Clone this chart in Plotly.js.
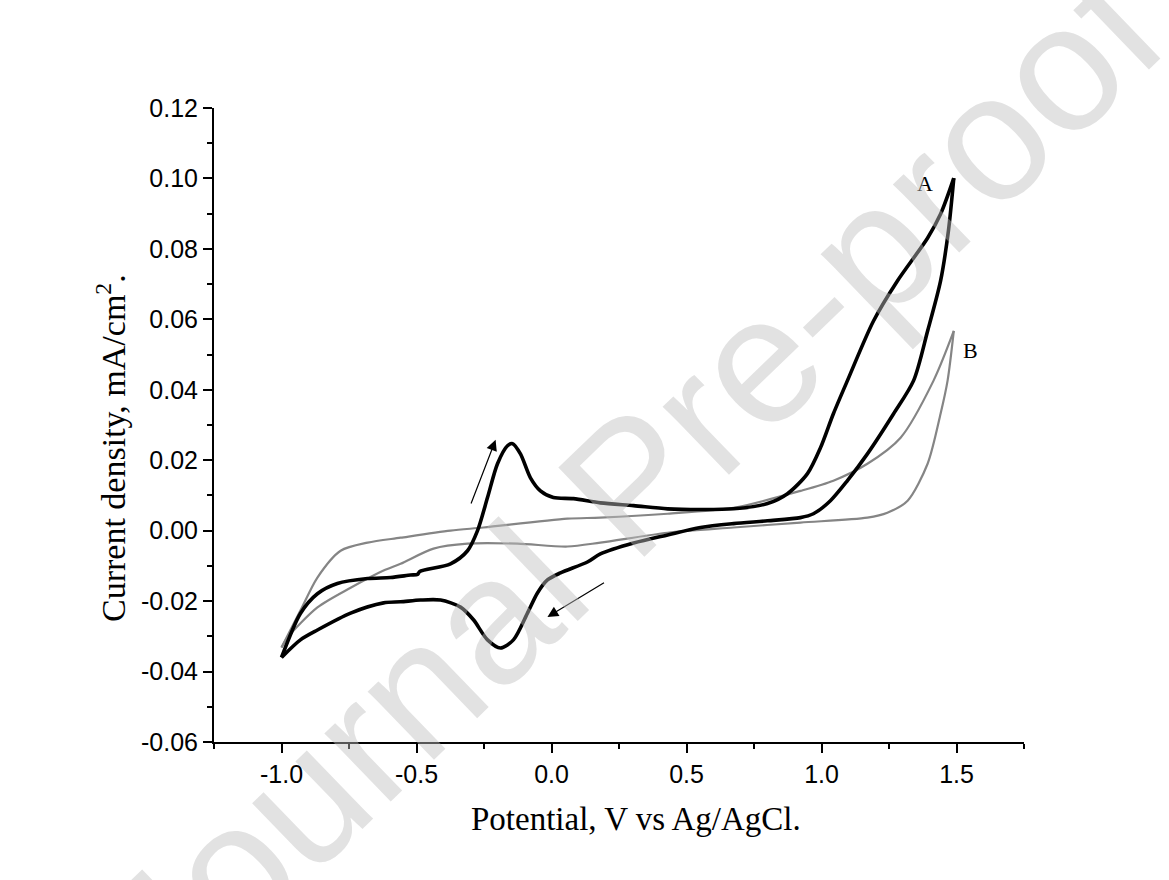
<!DOCTYPE html>
<html>
<head>
<meta charset="utf-8">
<script src="https://cdn.plot.ly/plotly-3.0.1.min.js"></script>
<style>html,body{margin:0;padding:0;background:#fff;}#chart{width:1169px;height:880px;}</style>
</head>
<body>
<div id="chart"></div>
<script>
// Curve A (black) – anodic (forward) sweep
const aAnodicX = [-1.0, -0.930, -0.867, -0.793, -0.681, -0.596, -0.522, -0.496, -0.488, -0.374, -0.311, -0.274, -0.237, -0.200, -0.163, -0.144, -0.115, -0.078, -0.041, 0.007, 0.081, 0.181, 0.304, 0.430, 0.552, 0.674, 0.800, 0.874, 0.948, 0.996, 1.044, 1.096, 1.193, 1.281, 1.393, 1.441, 1.49];
const aAnodicY = [-0.0360, -0.0235, -0.0179, -0.0150, -0.0136, -0.0133, -0.0126, -0.0124, -0.0116, -0.0094, -0.0057, 0.0000, 0.0094, 0.0190, 0.0241, 0.0247, 0.0218, 0.0150, 0.0113, 0.0094, 0.0091, 0.0079, 0.0071, 0.0062, 0.0060, 0.0062, 0.0077, 0.0105, 0.0162, 0.0235, 0.0332, 0.0426, 0.0596, 0.0709, 0.0831, 0.0899, 0.1001];
// Curve A (black) – cathodic (reverse) sweep
const aCathodicX = [1.49, 1.470, 1.441, 1.393, 1.341, 1.267, 1.170, 1.096, 1.033, 0.970, 0.922, 0.800, 0.674, 0.552, 0.430, 0.304, 0.181, 0.133, 0.033, -0.015, -0.052, -0.089, -0.141, -0.189, -0.237, -0.289, -0.337, -0.411, -0.485, -0.559, -0.622, -0.744, -0.867, -0.930, -1.0];
const aCathodicY = [0.1001, 0.0851, 0.0709, 0.0567, 0.0426, 0.0332, 0.0218, 0.0142, 0.0085, 0.0048, 0.0037, 0.0028, 0.0020, 0.0009, -0.0012, -0.0035, -0.0066, -0.0089, -0.0120, -0.0140, -0.0177, -0.0234, -0.0310, -0.0333, -0.0310, -0.0253, -0.0217, -0.0197, -0.0197, -0.0202, -0.0205, -0.0234, -0.0282, -0.0310, -0.0360];
// Curve B (grey) – anodic sweep
const bAnodicX = [-1.0, -0.930, -0.867, -0.781, -0.681, -0.559, -0.374, -0.252, 0.059, 0.181, 0.430, 0.674, 0.922, 1.044, 1.170, 1.293, 1.415, 1.49];
const bAnodicY = [-0.0332, -0.0227, -0.0133, -0.0057, -0.0034, -0.0020, 0.0000, 0.0009, 0.0034, 0.0037, 0.0048, 0.0065, 0.0113, 0.0142, 0.0190, 0.0264, 0.0426, 0.0567];
// Curve B (grey) – cathodic sweep
const bCathodicX = [1.49, 1.467, 1.441, 1.393, 1.319, 1.244, 1.170, 0.922, 0.674, 0.430, 0.181, 0.059, -0.126, -0.311, -0.437, -0.559, -0.622, -0.744, -0.867, -0.978, -1.0];
const bCathodicY = [0.0567, 0.0426, 0.0332, 0.0190, 0.0085, 0.0051, 0.0037, 0.0023, 0.0009, -0.0006, -0.0034, -0.0045, -0.0037, -0.0037, -0.0051, -0.0094, -0.0113, -0.0162, -0.0218, -0.0304, -0.0332];

// Curve labels and scan-direction arrows
const curveLabels = ["A", "B"];
const labelX = [1.385, 1.552];
const labelY = [0.0987, 0.0511];
const arrowTailX = [-0.300, 0.200];
const arrowTailY = [0.0073, -0.0145];
const arrowHeadX = [-0.207, -0.015];
const arrowHeadY = [0.0258, -0.0245];

const xTickVals = [-1.0, -0.5, 0.0, 0.5, 1.0, 1.5];
const yTickVals = [-0.06, -0.04, -0.02, 0.00, 0.02, 0.04, 0.06, 0.08, 0.10, 0.12];

const black = '#000000';
const grey = '#858585';
const serif = 'Liberation Serif, Times New Roman, serif';
const sans = 'Liberation Sans, Arial, sans-serif';

const traces = [
  {x: bAnodicX, y: bAnodicY, mode: 'lines', line: {color: grey, width: 2.2, shape: 'spline', smoothing: 0.8}, showlegend: false, hoverinfo: 'skip'},
  {x: bCathodicX, y: bCathodicY, mode: 'lines', line: {color: grey, width: 2.2, shape: 'spline', smoothing: 0.8}, showlegend: false, hoverinfo: 'skip'},
  {x: aAnodicX, y: aAnodicY, mode: 'lines', line: {color: black, width: 3.6, shape: 'spline', smoothing: 0.8}, showlegend: false, hoverinfo: 'skip'},
  {x: aCathodicX, y: aCathodicY, mode: 'lines', line: {color: black, width: 3.6, shape: 'spline', smoothing: 0.8}, showlegend: false, hoverinfo: 'skip'}
];

// plot area in pixels: x 214..1024, y 108..742
const px = v => (v - 214) / 810;
const py = v => (742 - v) / 634;

const annotations = [];
curveLabels.forEach((t, i) => {
  annotations.push({x: labelX[i], y: labelY[i], xref: 'x', yref: 'y', text: t, showarrow: false,
    font: {family: serif, size: 22, color: '#000'}});
});
arrowTailX.forEach((_, i) => {
  annotations.push({x: arrowHeadX[i], y: arrowHeadY[i], ax: arrowTailX[i], ay: arrowTailY[i],
    xref: 'x', yref: 'y', axref: 'x', ayref: 'y', text: '', showarrow: true,
    arrowhead: 2, arrowsize: 1.8, arrowwidth: 1.2, arrowcolor: '#000'});
});
// axis titles as positioned annotations
annotations.push({xref: 'paper', yref: 'paper', x: px(636), y: py(819), xanchor: 'center', yanchor: 'middle',
  text: 'Potential, V vs Ag/AgCl.', showarrow: false,
  font: {family: serif, size: 33, color: '#000'}});
annotations.push({xref: 'paper', yref: 'paper', x: px(111), y: py(448), xanchor: 'center', yanchor: 'middle',
  text: 'Current density, mA/cm<sup>2</sup>.', showarrow: false, textangle: -90,
  font: {family: serif, size: 34, color: '#000'}});
// watermark
annotations.push({xref: 'paper', yref: 'paper', x: px(630), y: py(483), xanchor: 'center', yanchor: 'middle',
  text: 'Journal Pre-proof', showarrow: false, textangle: -44,
  font: {family: sans, size: 180, color: 'rgba(190,190,190,0.45)'}});

const layout = {
  width: 1169, height: 880,
  margin: {l: 214, r: 145, t: 108, b: 138},
  paper_bgcolor: '#ffffff', plot_bgcolor: '#ffffff',
  showlegend: false,
  xaxis: {
    range: [-1.25, 1.75], tickvals: xTickVals, ticktext: xTickVals.map(v => v.toFixed(1)),
    showgrid: false, zeroline: false, showline: true, linecolor: '#000', linewidth: 2,
    ticks: 'outside', ticklen: 9, tickwidth: 2, tickcolor: '#000',
    minor: {dtick: 0.25, tick0: -1.25, ticks: 'outside', ticklen: 5, tickwidth: 2, tickcolor: '#000', showgrid: false},
    tickfont: {family: sans, size: 25, color: '#000'}
  },
  yaxis: {
    range: [-0.06, 0.12], tickvals: yTickVals, ticktext: yTickVals.map(v => v.toFixed(2)),
    showgrid: false, zeroline: false, showline: true, linecolor: '#000', linewidth: 2,
    ticks: 'outside', ticklen: 9, tickwidth: 2, tickcolor: '#000',
    minor: {dtick: 0.01, tick0: -0.06, ticks: 'outside', ticklen: 5, tickwidth: 2, tickcolor: '#000', showgrid: false},
    tickfont: {family: sans, size: 25, color: '#000'}
  },
  annotations: annotations
};

Plotly.newPlot('chart', traces, layout, {staticPlot: true, displayModeBar: false});
</script>
</body>
</html>
